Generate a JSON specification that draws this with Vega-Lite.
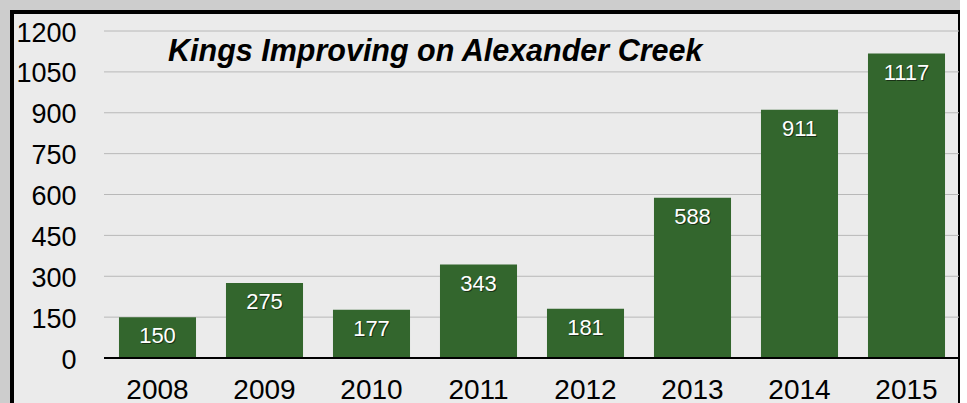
{
  "$schema": "https://vega.github.io/schema/vega-lite/v6.json",
  "width": 948,
  "height": 400,
  "autosize": {"type": "none"},
  "padding": {"left": 12, "top": 12, "right": 0, "bottom": 0},
  "background": "#cdcdcd",
  "config": {
    "view": {"stroke": "#000000", "strokeWidth": 4, "fill": "#ebebeb"},
    "font": "Liberation Sans"
  },
  "title": {
    "text": "Kings Improving on Alexander Creek",
    "anchor": "start",
    "frame": "group",
    "orient": "top",
    "offset": 0,
    "dx": 156,
    "dy": 79,
    "baseline": "alphabetic",
    "font": "Liberation Sans",
    "fontSize": 30.5,
    "fontWeight": "bold",
    "fontStyle": "italic",
    "color": "#000000"
  },
  "datasets": {
    "counts": [
      {"year": "2008", "value": 150},
      {"year": "2009", "value": 275},
      {"year": "2010", "value": 177},
      {"year": "2011", "value": 343},
      {"year": "2012", "value": 181},
      {"year": "2013", "value": 588},
      {"year": "2014", "value": 911},
      {"year": "2015", "value": 1117}
    ],
    "grid": [
      {"value": 150}, {"value": 300}, {"value": 450}, {"value": 600},
      {"value": 750}, {"value": 900}, {"value": 1050}, {"value": 1200}
    ],
    "base": [{"value": 0}]
  },
  "encoding": {
    "y": {
      "field": "value",
      "type": "quantitative",
      "scale": {"domain": [0, 1200], "range": [346, 19], "nice": false, "zero": true},
      "axis": {
        "orient": "left",
        "offset": -64,
        "values": [0, 150, 300, 450, 600, 750, 900, 1050, 1200],
        "format": "d",
        "ticks": false,
        "domain": false,
        "grid": false,
        "title": null,
        "labelPadding": 0,
        "labelFontSize": 27,
        "labelFont": "Liberation Sans",
        "labelColor": "#000000",
        "labelBaseline": "middle",
        "labelOffset": 2,
        "labelFlush": false,
        "labelOverlap": false
      }
    }
  },
  "resolve": {"scale": {"x": "independent"}, "axis": {"x": "independent"}},
  "layer": [
    {
      "data": {"name": "grid"},
      "mark": {"type": "rule", "color": "#b8b8b8", "strokeWidth": 1},
      "encoding": {
        "x": {"datum": 0, "type": "quantitative", "scale": {"domain": [0, 1], "range": [92, 947]}, "axis": null},
        "x2": {"datum": 1}
      }
    },
    {
      "data": {"name": "counts"},
      "layer": [
        {
          "mark": {"type": "bar", "color": "#33662D"},
          "encoding": {
            "x": {
              "field": "year",
              "type": "nominal",
              "scale": {"range": [92, 948], "paddingInner": 0.28, "paddingOuter": 0.14},
              "axis": {
                "orient": "bottom",
                "offset": -14,
                "ticks": false,
                "domain": false,
                "title": null,
                "labelAngle": 0,
                "labelPadding": 0,
                "labelBaseline": "alphabetic",
                "labelFontSize": 28,
                "labelFont": "Liberation Sans",
                "labelColor": "#000000"
              }
            }
          }
        },
        {
          "mark": {"type": "text", "baseline": "alphabetic", "align": "center", "dx": 1, "dy": 27, "fontSize": 22, "color": "#000000", "opacity": 0.5},
          "encoding": {
            "x": {"field": "year", "type": "nominal"},
            "text": {"field": "value", "type": "quantitative", "format": "d"}
          }
        },
        {
          "mark": {"type": "text", "baseline": "alphabetic", "align": "center", "dy": 26, "fontSize": 22, "color": "#ffffff"},
          "encoding": {
            "x": {"field": "year", "type": "nominal"},
            "text": {"field": "value", "type": "quantitative", "format": "d"}
          }
        }
      ]
    },
    {
      "data": {"name": "base"},
      "mark": {"type": "rule", "color": "#000000", "strokeWidth": 2},
      "encoding": {
        "x": {"datum": 0, "type": "quantitative", "scale": {"domain": [0, 1], "range": [92, 947]}, "axis": null},
        "x2": {"datum": 1}
      }
    }
  ]
}
